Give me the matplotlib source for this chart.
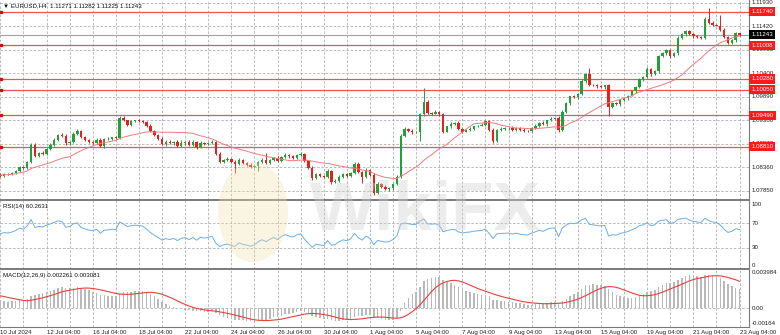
import numpy as np
import pandas as pd
import matplotlib
matplotlib.use("Agg")
import matplotlib.pyplot as plt
from matplotlib.patches import Ellipse
from matplotlib.transforms import blended_transform_factory

# EURUSD H4 closes, one per bar (10 Jul 2024 .. 23 Aug 04:00)
closes = [
    1.0820, 1.0818, 1.0822, 1.0821, 1.0824, 1.0829, 1.0837, 1.0835, 1.0848, 1.0885,
    1.0861, 1.0868, 1.0866, 1.0877, 1.0885, 1.0896, 1.0907, 1.0905, 1.0888, 1.0892,
    1.0909, 1.0916, 1.0901, 1.0896, 1.0892, 1.0890, 1.0896, 1.0883, 1.0897, 1.0898,
    1.0901, 1.0900, 1.0944, 1.0938, 1.0929, 1.0936, 1.0938, 1.0937, 1.0935, 1.0927,
    1.0916, 1.0907, 1.0898, 1.0887, 1.0892, 1.0888, 1.0892, 1.0883, 1.0890, 1.0892,
    1.0885, 1.0891, 1.0881, 1.0890, 1.0887, 1.0889, 1.0892, 1.0866, 1.0848, 1.0853,
    1.0855, 1.0848, 1.0844, 1.0853, 1.0846, 1.0842, 1.0837, 1.0840, 1.0848, 1.0853,
    1.0846, 1.0852, 1.0857, 1.0850, 1.0859, 1.0864, 1.0860, 1.0857, 1.0863, 1.0866,
    1.0850, 1.0835, 1.0813, 1.0822, 1.0818, 1.0815, 1.0829, 1.0805, 1.0807, 1.0816,
    1.0822, 1.0818, 1.0824, 1.0844, 1.0826, 1.0815, 1.0831, 1.0820, 1.0781, 1.0800,
    1.0794, 1.0789, 1.0791, 1.0800, 1.0816, 1.0905, 1.0920, 1.0916, 1.0912, 1.0914,
    1.0951, 1.0979, 1.0955, 1.0953, 1.0957, 1.0951, 1.0914, 1.0925, 1.0931, 1.0933,
    1.0920, 1.0914, 1.0918, 1.0920, 1.0925, 1.0927, 1.0929, 1.0936, 1.0918, 1.0894,
    1.0918, 1.0920, 1.0921, 1.0922, 1.0918, 1.0922, 1.0918, 1.0916, 1.0915, 1.0922,
    1.0927, 1.0933, 1.0930, 1.0938, 1.0942, 1.0943, 1.0918, 1.0957, 1.0975, 1.0990,
    1.0988, 1.0996, 1.1023, 1.1038, 1.1016, 1.1014, 1.1012, 1.1010, 1.1014, 1.0968,
    1.0975, 1.0973, 1.0982, 1.0986, 1.0992, 1.1001, 1.1010, 1.1027, 1.1032, 1.1049,
    1.1038, 1.1045, 1.1077, 1.1084, 1.1090, 1.1077, 1.1084, 1.1117, 1.1125, 1.1132,
    1.1125, 1.1121, 1.1119, 1.1117, 1.1158, 1.1150, 1.1145, 1.1144, 1.1135, 1.1119,
    1.1106, 1.1112, 1.11271, 1.11243,
]
first_open = 1.0822

# wick length above / below the body, in pips
wick_hi = [
    2, 3, 2, 2, 3, 2, 3, 2, 3, 3,   4, 2, 3, 2, 3, 3, 2, 4, 3, 2,
    3, 4, 2, 3, 2, 2, 3, 4, 2, 3,   2, 3, 4, 3, 2, 3, 2, 3, 2, 2,
    3, 2, 2, 3, 4, 3, 2, 3, 5, 2,   3, 4, 2, 3, 2, 2, 3, 2, 3, 2,
    3, 2, 4, 3, 2, 2, 3, 2, 3, 4,   15, 3, 2, 3, 2, 4, 2, 3, 2, 3,
    2, 3, 4, 2, 3, 2, 3, 2, 3, 3,   2, 3, 2, 4, 3, 2, 3, 2, 3, 4,
    2, 3, 2, 3, 3, 4, 3, 2, 3, 2,   3, 30, 4, 2, 3, 2, 3, 2, 3, 2,
    3, 2, 2, 3, 2, 2, 3, 2, 4, 3,   2, 3, 2, 2, 3, 2, 2, 3, 2, 2,
    3, 2, 3, 2, 3, 2, 4, 3, 3, 2,   3, 2, 4, 3, 13, 2, 3, 2, 2, 4,
    3, 2, 2, 3, 2, 3, 2, 3, 2, 4,   3, 2, 4, 2, 3, 3, 2, 4, 3, 2,
    3, 2, 3, 2, 4, 24, 3, 2, 23, 3,  2, 3, 2, 1,
]
wick_lo = [
    3, 2, 3, 2, 2, 3, 2, 3, 2, 3,   3, 2, 4, 2, 3, 2, 3, 2, 3, 3,
    2, 3, 2, 3, 2, 3, 3, 2, 4, 2,   3, 2, 3, 2, 3, 2, 2, 3, 2, 3,
    2, 3, 3, 2, 4, 2, 3, 2, 2, 5,   2, 3, 4, 2, 3, 2, 3, 2, 3, 3,
    2, 3, 20, 3, 2, 3, 2, 3, 11, 3,  3, 2, 3, 2, 3, 2, 3, 2, 3, 2,
    3, 2, 4, 3, 2, 3, 2, 4, 3, 2,   3, 2, 3, 2, 3, 13, 2, 3, 5, 3,
    3, 2, 4, 3, 2, 3, 3, 2, 3, 2,   20, 3, 2, 3, 2, 3, 4, 2, 3, 2,
    2, 3, 2, 2, 3, 2, 2, 3, 2, 5,   3, 2, 2, 3, 2, 2, 3, 2, 3, 2,
    2, 3, 2, 3, 2, 3, 5, 3, 2, 3,   2, 3, 2, 3, 3, 2, 3, 2, 3, 20,
    3, 2, 3, 2, 3, 2, 3, 2, 3, 2,   3, 2, 3, 2, 3, 3, 2, 3, 2, 3,
    2, 3, 2, 3, 3, 2, 3, 2, 3, 3,   3, 2, 3, 2,
]

rsi_seed_gain = 0.00046
rsi_seed_loss = 0.00038
ema12_seed = 1.0812
ema26_seed = 1.0804
macd_seed = 0.0016

levels = [1.11740, 1.11008, 1.10280, 1.10050, 1.09490, 1.08810]
price_ticks = [1.11930, 1.11420, 1.10910, 1.10400, 1.09890, 1.09380, 1.08870, 1.08360, 1.07850]
last_price = 1.11243
date_labels = ["10 Jul 2024", "12 Jul 04:00", "16 Jul 04:00", "18 Jul 04:00", "22 Jul 04:00",
               "24 Jul 04:00", "26 Jul 04:00", "30 Jul 04:00", "1 Aug 04:00", "5 Aug 04:00",
               "7 Aug 04:00", "9 Aug 04:00", "13 Aug 04:00", "15 Aug 04:00", "19 Aug 04:00",
               "21 Aug 04:00", "23 Aug 04:00"]
rsi_ticks = [100, 70, 30, 0]
macd_ticks = [0.003984, 0.0, -0.00164]
macd_tick_text = ["0.003984", "0.00", "-0.00164"]

plt.rcParams['font.family'] = ['Liberation Sans', 'DejaVu Sans']
FS = 4.4
GREEN = "#22a03a"
RED = "#e8201c"
GRID = "#b0b0b0"
SPINE = "#7a7a7a"

c = np.array(closes)
o = np.r_[first_open, c[:-1]]
body_top = np.maximum(o, c)
body_bot = np.minimum(o, c)
h = body_top + np.array(wick_hi) * 0.0001
l = body_bot - np.array(wick_lo) * 0.0001
idx = np.arange(len(c))

ma = pd.Series(c).rolling(20, min_periods=1).mean()

# RSI(14), Wilder smoothing
g, lo_ = rsi_seed_gain, rsi_seed_loss
rsi = []
for ch in np.diff(np.r_[first_open, c]):
    g = (g * 13 + max(ch, 0)) / 14
    lo_ = (lo_ * 13 + max(-ch, 0)) / 14
    rsi.append(100 - 100 / (1 + g / lo_))
rsi = np.array(rsi)


def ema(vals, span, seed):
    a = 2 / (span + 1)
    e = seed
    out = []
    for v in vals:
        e = e + a * (v - e)
        out.append(e)
    return np.array(out)


macd = ema(c, 12, ema12_seed) - ema(c, 26, ema26_seed)
signal = pd.Series(np.r_[[macd_seed] * 8, macd]).rolling(9).mean().to_numpy()[8:]

fig = plt.figure(figsize=(7.8, 3.35), dpi=100)
fig.patch.set_facecolor("white")


def box(x0, y0, x1, y1):
    return [x0 / 780, 1 - y1 / 335, (x1 - x0) / 780, (y1 - y0) / 335]


ax_p = fig.add_axes(box(0, 0, 749, 200))
ax_r = fig.add_axes(box(0, 200, 749, 269))
ax_m = fig.add_axes(box(0, 269, 749, 327))

xlim = (0.92, 195.46)
grid_x = np.arange(1, 196, 6)
for ax in (ax_p, ax_r, ax_m):
    ax.set_facecolor("none")
    ax.set_xlim(*xlim)
    ax.set_xticks([])
    ax.set_yticks([])
    for x in grid_x:
        ax.axvline(x, color=GRID, lw=0.6, ls=(0, (3, 2)), zorder=0)
    ax.spines["left"].set_visible(False)
    ax.spines["top"].set_visible(False)
    for sp in ("right", "bottom"):
        ax.spines[sp].set_color(SPINE)
        ax.spines[sp].set_linewidth(0.8)
ax_p.spines["bottom"].set_linewidth(1.2)
ax_r.spines["top"].set_visible(True)
ax_r.spines["top"].set_color(SPINE)
ax_r.spines["top"].set_linewidth(1.2)
ax_r.spines["bottom"].set_linewidth(1.2)
ax_m.spines["top"].set_visible(True)
ax_m.spines["top"].set_color(SPINE)
ax_m.spines["top"].set_linewidth(1.2)

# price panel
ax_p.set_ylim(1.07653, 1.11995)
for y in price_ticks:
    ax_p.axhline(y, color=GRID, lw=0.6, ls=(0, (3, 2)), zorder=0)
ax_p.axhline(last_price, color="#a0a0a0", lw=0.8, zorder=1)
for y in levels:
    ax_p.axhline(y, color="#ec5555", lw=0.9, zorder=1)
    ax_p.plot(xlim[0] + 0.3, y, "s", ms=1.8, color="#d01010", zorder=2, clip_on=False)

col = np.where(c >= o, GREEN, RED)
ax_p.vlines(idx, l, h, colors=col, lw=0.7, zorder=3)
ax_p.bar(idx, np.maximum(body_top - body_bot, 0.00005), bottom=body_bot, width=0.62,
         color=col, linewidth=0, zorder=4)
ax_p.plot(idx, ma, color="#f27a7a", lw=0.7, zorder=5)

tr_p = blended_transform_factory(ax_p.transAxes, ax_p.transData)
for y in price_ticks:
    ax_p.text(1.004, y, f"{y:.5f}", transform=tr_p, fontsize=FS, ha="left", va="center",
              color="#222222", clip_on=False, zorder=6)
for y in levels:
    ax_p.text(1.003, y, f"{y:.5f}", transform=tr_p, fontsize=FS, ha="left", va="center",
              color="white", clip_on=False, zorder=8,
              bbox=dict(boxstyle="square,pad=0.35", fc="#ff1a1a", ec="none"))
ax_p.text(1.003, last_price, f"{last_price:.5f}", transform=tr_p, fontsize=FS, ha="left",
          va="center", color="white", clip_on=False, zorder=9,
          bbox=dict(boxstyle="square,pad=0.35", fc="black", ec="none"))
ax_p.text(0.004, 0.972, "\u25bc EURUSD,H4  1.11271 1.11282 1.11225 1.11243",
          transform=ax_p.transAxes, fontsize=FS, ha="left", va="center", color="#111111")

# RSI panel
ax_r.set_ylim(-5, 108)
for y in (70, 30):
    ax_r.axhline(y, color=GRID, lw=0.6, ls=(0, (3, 2)), zorder=0)
ax_r.plot(idx, rsi, color="#6aaee8", lw=0.7, zorder=3)
tr_r = blended_transform_factory(ax_r.transAxes, ax_r.transData)
for y in rsi_ticks:
    ax_r.text(1.004, y, str(y), transform=tr_r, fontsize=FS, ha="left", va="center",
              color="#222222", clip_on=False)
ax_r.text(0.004, 0.9, "RSI(14) 60.2631", transform=ax_r.transAxes, fontsize=FS,
          ha="left", va="center", color="#111111")

# MACD panel
ax_m.set_ylim(-0.00208, 0.00443)
ax_m.axhline(0, color=GRID, lw=0.6, ls=(0, (3, 2)), zorder=0)
ax_m.bar(idx, macd, width=0.38, color="#b9b9b9", linewidth=0, zorder=2)
ax_m.plot(idx, signal, color="#e8403a", lw=0.8, zorder=3)
tr_m = blended_transform_factory(ax_m.transAxes, ax_m.transData)
for y, t in zip(macd_ticks, macd_tick_text):
    ax_m.text(1.004, y, t, transform=tr_m, fontsize=FS, ha="left", va="center",
              color="#222222", clip_on=False)
ax_m.text(0.004, 0.88, "MACD(12,26,9) 0.002261 0.003081", transform=ax_m.transAxes,
          fontsize=FS, ha="left", va="center", color="#111111")

# date labels under the last panel
label_x = [xlim[0]] + list(np.arange(13, 194, 12))
for x, t in zip(label_x, date_labels):
    ax_m.text(x, -0.1, t, transform=blended_transform_factory(ax_m.transData, ax_m.transAxes),
              fontsize=FS, ha="left", va="center", color="#222222", clip_on=False)

# watermark
fig.add_artist(Ellipse((253 / 780, 1 - 212 / 335), 70 / 780, 100 / 335,
                       transform=fig.transFigure, fc="#f3e0ad", ec="none", alpha=0.35, zorder=10))
fig.text(425 / 780, 1 - 212 / 335, "WikiFX", fontsize=50, fontweight="bold",
         color="#d0d0d0", alpha=0.4, ha="center", va="center", zorder=11)

fig.savefig("out.png", dpi=100, facecolor="white")
